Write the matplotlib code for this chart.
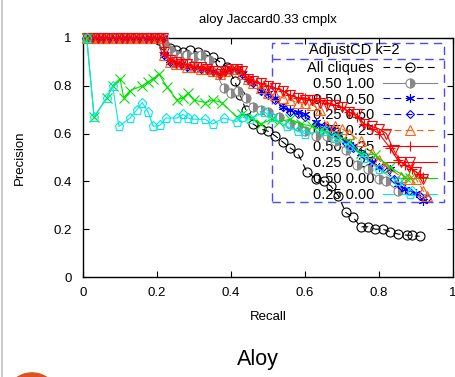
# Precision / recall curves for aloy, Jaccard 0.33, complex setting (gnuplot look-alike)
import matplotlib
matplotlib.use('Agg')
import matplotlib.pyplot as plt
from matplotlib.lines import Line2D
from matplotlib.patches import Circle, Rectangle

plt.rcParams['font.family'] = ['Liberation Sans', 'DejaVu Sans']

# recall points at precision 1.0 shared by most runs
top_r = [0.01, 0.025, 0.04, 0.055, 0.07, 0.09, 0.105, 0.12, 0.135, 0.15, 0.17, 0.185, 0.2, 0.215]
top_p = [1.0] * len(top_r)

all_r = [0.01, 0.04, 0.07, 0.10, 0.13, 0.16, 0.19, 0.205, 0.22, 0.235, 0.25, 0.27, 0.29, 0.31,
         0.33, 0.35, 0.37, 0.39, 0.41, 0.425, 0.44, 0.46, 0.48, 0.50, 0.52, 0.54, 0.56, 0.58,
         0.605, 0.63, 0.65, 0.67, 0.69, 0.71, 0.73, 0.75, 0.77, 0.79, 0.81, 0.83, 0.85, 0.875,
         0.89, 0.91]
all_p = [1.0, 1.0, 1.0, 1.0, 1.0, 1.0, 1.0, 0.99, 0.97, 0.96, 0.95, 0.94, 0.95, 0.94,
         0.93, 0.92, 0.90, 0.88, 0.82, 0.76, 0.70, 0.64, 0.62, 0.61, 0.59, 0.565, 0.54, 0.52,
         0.44, 0.41, 0.40, 0.38, 0.34, 0.27, 0.25, 0.21, 0.21, 0.20, 0.20, 0.19, 0.18, 0.175,
         0.175, 0.17]

g10_r = top_r + [0.22, 0.235, 0.25, 0.265, 0.28, 0.30, 0.32, 0.34, 0.38, 0.40, 0.42, 0.44,
                 0.46, 0.48, 0.50, 0.53, 0.56, 0.58, 0.60, 0.63, 0.66, 0.68, 0.71, 0.74,
                 0.77, 0.80, 0.82, 0.85]
g10_p = top_p + [0.98, 0.95, 0.93, 0.92, 0.93, 0.92, 0.93, 0.91, 0.79, 0.77, 0.78, 0.75,
                 0.71, 0.70, 0.69, 0.67, 0.64, 0.63, 0.61, 0.59, 0.59, 0.57, 0.53, 0.47,
                 0.45, 0.41, 0.40, 0.36]

b55_r = top_r + [0.22, 0.235, 0.25, 0.265, 0.28, 0.30, 0.32, 0.335, 0.35, 0.37, 0.385, 0.40,
                 0.415, 0.43, 0.445, 0.46, 0.48, 0.50, 0.52, 0.54, 0.56, 0.58, 0.60, 0.63,
                 0.65, 0.67, 0.69, 0.71, 0.73, 0.75, 0.78, 0.80, 0.83, 0.85, 0.87, 0.90,
                 0.92]
b55_p = top_p + [0.93, 0.90, 0.89, 0.89, 0.88, 0.88, 0.87, 0.87, 0.86, 0.85, 0.86, 0.87,
                 0.87, 0.85, 0.83, 0.81, 0.78, 0.77, 0.75, 0.71, 0.70, 0.69, 0.68, 0.65,
                 0.63, 0.62, 0.60, 0.57, 0.55, 0.52, 0.48, 0.46, 0.45, 0.39, 0.37, 0.35,
                 0.32]

b25_r = top_r + [0.22, 0.235, 0.25, 0.265, 0.28, 0.30, 0.32, 0.335, 0.35, 0.37, 0.385, 0.40,
                 0.415, 0.43, 0.445, 0.46, 0.48, 0.50, 0.52, 0.54, 0.56, 0.58, 0.60, 0.63,
                 0.65, 0.67, 0.69, 0.71, 0.73, 0.76, 0.78, 0.81, 0.84, 0.86, 0.88, 0.91,
                 0.93]
b25_p = top_p + [0.93, 0.90, 0.89, 0.89, 0.88, 0.88, 0.87, 0.87, 0.86, 0.85, 0.86, 0.87,
                 0.87, 0.85, 0.83, 0.81, 0.78, 0.76, 0.74, 0.71, 0.69, 0.68, 0.67, 0.64,
                 0.63, 0.61, 0.60, 0.56, 0.54, 0.51, 0.49, 0.46, 0.41, 0.38, 0.36, 0.34,
                 0.33]

o75_r = top_r + [0.22, 0.235, 0.25, 0.265, 0.28, 0.30, 0.32, 0.335, 0.35, 0.37, 0.385, 0.40,
                 0.415, 0.43, 0.445, 0.46, 0.48, 0.50, 0.52, 0.54, 0.56, 0.58, 0.60, 0.62,
                 0.64, 0.66, 0.68, 0.70, 0.72, 0.75, 0.78, 0.80, 0.82, 0.86, 0.88, 0.90,
                 0.92, 0.93]
o75_p = top_p + [0.93, 0.90, 0.89, 0.89, 0.88, 0.88, 0.87, 0.87, 0.86, 0.85, 0.86, 0.87,
                 0.87, 0.85, 0.83, 0.81, 0.79, 0.77, 0.76, 0.75, 0.74, 0.73, 0.73, 0.72,
                 0.70, 0.63, 0.63, 0.62, 0.60, 0.57, 0.52, 0.49, 0.46, 0.42, 0.41, 0.41,
                 0.36, 0.34]

r50_r = top_r + [0.22, 0.235, 0.25, 0.265, 0.28, 0.30, 0.32, 0.335, 0.35, 0.37, 0.385, 0.40,
                 0.415, 0.43, 0.445, 0.46, 0.48, 0.50, 0.52, 0.54, 0.56, 0.58, 0.60, 0.62,
                 0.64, 0.66, 0.68, 0.70, 0.72, 0.74, 0.76, 0.78, 0.80, 0.83, 0.85, 0.87,
                 0.89, 0.91, 0.92]
r50_p = top_p + [0.94, 0.91, 0.90, 0.89, 0.89, 0.88, 0.88, 0.87, 0.86, 0.85, 0.86, 0.87,
                 0.87, 0.86, 0.83, 0.82, 0.81, 0.80, 0.79, 0.78, 0.76, 0.75, 0.75, 0.74,
                 0.74, 0.73, 0.72, 0.71, 0.69, 0.67, 0.64, 0.62, 0.60, 0.54, 0.49, 0.47,
                 0.45, 0.43, 0.42]

r25_r = top_r + [0.22, 0.235, 0.25, 0.265, 0.28, 0.30, 0.32, 0.335, 0.35, 0.37, 0.385, 0.40,
                 0.415, 0.43, 0.445, 0.46, 0.48, 0.50, 0.52, 0.54, 0.56, 0.58, 0.60, 0.62,
                 0.64, 0.66, 0.68, 0.70, 0.72, 0.74, 0.76, 0.78, 0.80, 0.82, 0.84, 0.86,
                 0.88, 0.90, 0.92]
r25_p = top_p + [0.94, 0.91, 0.90, 0.89, 0.89, 0.88, 0.88, 0.87, 0.86, 0.85, 0.86, 0.87,
                 0.87, 0.86, 0.83, 0.82, 0.81, 0.80, 0.79, 0.78, 0.76, 0.75, 0.74, 0.74,
                 0.73, 0.72, 0.72, 0.71, 0.69, 0.68, 0.64, 0.63, 0.62, 0.60, 0.53, 0.48,
                 0.46, 0.44, 0.41]

gr_r = [0.01, 0.03, 0.065, 0.08, 0.10, 0.11, 0.127, 0.16, 0.175, 0.19, 0.205, 0.227, 0.254,
        0.27, 0.284, 0.30, 0.33, 0.35, 0.375, 0.415, 0.43, 0.457, 0.48, 0.51, 0.53, 0.56,
        0.59, 0.62, 0.65, 0.69, 0.72, 0.75, 0.79, 0.83, 0.87]
gr_p = [1.0, 0.67, 0.75, 0.80, 0.83, 0.75, 0.78, 0.80, 0.815, 0.83, 0.85, 0.795, 0.74,
        0.75, 0.77, 0.74, 0.73, 0.74, 0.73, 0.67, 0.68, 0.665, 0.64, 0.66, 0.65, 0.66,
        0.64, 0.63, 0.61, 0.59, 0.565, 0.52, 0.51, 0.46, 0.42]

cy_r = [0.01, 0.03, 0.065, 0.08, 0.097, 0.127, 0.146, 0.16, 0.176, 0.19, 0.208, 0.224,
        0.254, 0.27, 0.284, 0.30, 0.33, 0.35, 0.38, 0.415, 0.43, 0.45, 0.49, 0.51, 0.55,
        0.58, 0.60, 0.65, 0.68, 0.72, 0.76, 0.80, 0.85, 0.89]
cy_p = [1.0, 0.67, 0.75, 0.80, 0.63, 0.665, 0.70, 0.73, 0.69, 0.63, 0.635, 0.665, 0.665,
        0.68, 0.665, 0.66, 0.66, 0.64, 0.665, 0.65, 0.67, 0.66, 0.69, 0.67, 0.63, 0.61,
        0.60, 0.61, 0.58, 0.55, 0.50, 0.45, 0.40, 0.36]

series = [
    ('All cliques', all_r, all_p, 'black', 'o', '--', 'none', 'full'),
    ('0.50 1.00', g10_r, g10_p, '#888888', 'o', '-', '#888888', 'right'),
    ('0.50 0.50', b55_r, b55_p, '#0000ff', (6, 2, 0), '--', 'none', 'full'),
    ('0.25 0.50', b25_r, b25_p, '#0000ff', 'D', '--', 'none', 'full'),
    ('0.75 0.25', o75_r, o75_p, '#ff6010', '^', '--', 'none', 'full'),
    ('0.50 0.25', r50_r, r50_p, '#ff0000', '+', '-', 'none', 'full'),
    ('0.25 0.25', r25_r, r25_p, '#ff0000', 'v', '-', 'none', 'full'),
    ('0.50 0.00', gr_r, gr_p, '#00e000', 'x', '-', 'none', 'full'),
    ('0.25 0.00', cy_r, cy_p, '#00e8e8', 'p', '-', 'none', 'full'),
]

fig = plt.figure(figsize=(4.55, 3.77), dpi=100)
ax = fig.add_axes([83 / 455, 1 - 277 / 377, 370 / 455, 239 / 377])

for label, r, p, col, mk, ls, mfc, fill in series:
    ms = 4.5 if mk == 'D' else 6.5
    ax.plot(r, p, color=col, marker=mk, linestyle=ls, linewidth=0.8, markersize=ms,
            markerfacecolor=mfc, fillstyle=fill, markerfacecoloralt='white',
            markeredgewidth=0.8, dashes=(6, 4) if ls == '--' else (None, None),
            label=label, clip_on=False, zorder=3)

ax.set_xlim(0, 1)
ax.set_ylim(0, 1)
ax.set_xticks([0, 0.2, 0.4, 0.6, 0.8, 1])
ax.set_xticklabels(['0', '0.2', '0.4', '0.6', '0.8', '1'])
ax.set_yticks([0, 0.2, 0.4, 0.6, 0.8, 1])
ax.set_yticklabels(['0', '0.2', '0.4', '0.6', '0.8', '1'])
ax.tick_params(direction='in', top=True, right=True, length=4, width=0.8, labelsize=9.5)
ax.tick_params(axis='x', pad=7)
ax.tick_params(axis='y', pad=8)
for s in ax.spines.values():
    s.set_linewidth(1.0)

ax.set_xlabel('Recall', fontsize=9.5, labelpad=9)
ax.set_ylabel('Precision', fontsize=9.5, labelpad=20)
ax.set_title('aloy Jaccard0.33 cmplx', fontsize=9.5, pad=11)

# gnuplot style key: text right-aligned, sample to the right, wide dashed box
leg = ax.legend(loc='upper right', bbox_to_anchor=(0.962, 0.914), markerfirst=False,
                fontsize=10.5, frameon=False, handlelength=3.7, handletextpad=0.6,
                labelspacing=0.13, borderpad=0.15, borderaxespad=0)
leg.set_zorder(1)
key_blue = '#4a4aff'
ax.add_patch(Rectangle((0.511, 0.314), 0.465, 0.665, transform=ax.transAxes, fill=False,
                       edgecolor=key_blue, linewidth=1.0, linestyle=(0, (6, 4)), zorder=1,
                       clip_on=False))
ax.add_line(Line2D([0.511, 0.976], [0.912, 0.912], transform=ax.transAxes,
                   color=key_blue, linewidth=1.0, dashes=(6, 4), zorder=1))
ax.text(0.732, 0.95, 'AdjustCD k=2', transform=ax.transAxes, ha='center', va='center',
        fontsize=10.5, zorder=1)

# page context around the chart
fig.text(258 / 455, 1 - 360 / 377, 'Aloy', ha='center', va='center', fontsize=15.5)
fig.add_artist(Line2D([1.5 / 455, 1.5 / 455], [0, 1], transform=fig.transFigure,
                      color='#cccccc', linewidth=1.5))
fig.add_artist(Circle((32 / 455, 1 - 392 / 377), 23 / 455, transform=fig.transFigure,
                      color='#d9531e'))

fig.savefig('out.png', dpi=100)
